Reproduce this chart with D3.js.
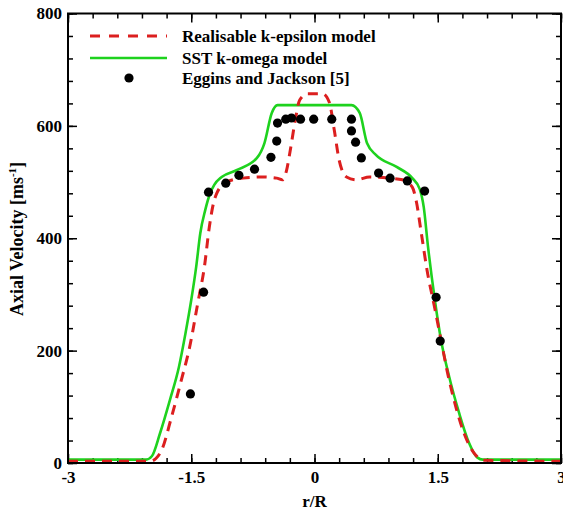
<!DOCTYPE html>
<html>
<head>
<meta charset="utf-8">
<script src="https://cdn.jsdelivr.net/npm/d3@7"></script>
<style>
  body { margin: 0; background: #fff; }
  svg text { font-family: "Liberation Serif", "Times New Roman", serif; font-weight: bold; }
</style>
</head>
<body>
<div id="chart"></div>
<script>
// SST k-omega model
const sstR = [-3, -2.05, -1.98, -1.88, -1.76, -1.65, -1.57, -1.50, -1.44, -1.39, -1.33, -1.27, -1.22, -1.13, -0.95, -0.70, -0.61, -0.52, -0.45,
  0.45, 0.55, 0.64, 0.75, 1.00, 1.19, 1.28, 1.33, 1.38, 1.46, 1.54, 1.64, 1.76, 1.88, 1.98, 2.05, 3];
const sstV = [6, 6, 12, 53, 112, 171, 231, 290, 349, 409, 450, 480, 495, 509, 521, 543, 569, 623, 637,
  637, 623, 569, 548, 527, 507, 488, 455, 387, 295, 219, 153, 89, 36, 10, 6, 6];

// Realisable k-epsilon model
const keR = [-3, -2.0, -1.93, -1.86, -1.74, -1.62, -1.52, -1.42, -1.34, -1.28, -1.23, -1.19, -1.07, -0.87, -0.63, -0.46, -0.39, -0.34, -0.30, -0.24, -0.18, -0.09,
  0.10, 0.18, 0.24, 0.30, 0.39, 0.51, 0.67, 0.91, 1.07, 1.19, 1.24, 1.30, 1.37, 1.46, 1.54, 1.62, 1.72, 1.82, 1.94, 2.06, 3];
const keV = [3, 3, 8, 23, 82, 148, 206, 285, 349, 420, 462, 480, 500, 507, 509, 507, 504, 521, 552, 605, 646, 657,
  657, 642, 593, 539, 509, 504, 509, 507, 504, 491, 465, 409, 343, 278, 219, 160, 100, 53, 18, 5, 3];

// Eggins and Jackson [5]
const expR = [-1.51, -1.35, -1.29, -1.08, -0.92, -0.73, -0.53, -0.46, -0.45, -0.35, -0.28, -0.17, -0.01, 0.21, 0.45, 0.45, 0.50, 0.57, 0.78, 0.92, 1.13, 1.34, 1.48, 1.53];
const expV = [123, 304, 482, 498, 512, 523, 544, 573, 605, 612, 614, 612, 612, 612, 612, 591, 571, 543, 516, 507, 502, 484, 295, 217];

const xMajor = [-3, -1.5, 0, 1.5, 3];
const xMinor = d3.range(-3, 3.001, 0.3);
const yMajor = [0, 200, 400, 600, 800];
const yMinor = d3.range(0, 801, 40);

const legendLabels = ["Realisable k-epsilon model", "SST k-omega model", "Eggins and Jackson [5]"];

const W = 563, H = 513;
const margin = { top: 13.5, right: 2, bottom: 50, left: 68 };
const RED = "#dc1f1f", GREEN = "#1ed21e";

const svg = d3.select("#chart").append("svg").attr("width", W).attr("height", H);

const x = d3.scaleLinear().domain([-3, 3]).range([margin.left, W - margin.right]);
const y = d3.scaleLinear().domain([0, 800]).range([H - margin.bottom, margin.top]);

const fmtX = d => (d === 0 ? "0" : String(d));

// axes: ticks inward on all four sides
function drawAxis(axisFn, scale, vals, size, transform, withLabels, fmt, pad) {
  const a = axisFn(scale).tickValues(vals).tickSize(-size).tickPadding(pad || 6);
  a.tickFormat(withLabels ? fmt : "");
  const g = svg.append("g").attr("transform", transform).call(a);
  g.select(".domain").remove();
  g.selectAll(".tick line").attr("stroke", "#000").attr("stroke-width", 1.5);
  g.selectAll("text").attr("fill", "#000").style("font-size", "17px");
  return g;
}

drawAxis(d3.axisBottom, x, xMinor, 5, `translate(0,${y(0)})`, false);
drawAxis(d3.axisBottom, x, xMajor, 9, `translate(0,${y(0)})`, true, fmtX, 8);
drawAxis(d3.axisTop, x, xMinor, 5, `translate(0,${y(800)})`, false);
drawAxis(d3.axisTop, x, xMajor, 9, `translate(0,${y(800)})`, false);
drawAxis(d3.axisLeft, y, yMinor, 5, `translate(${x(-3)},0)`, false);
drawAxis(d3.axisLeft, y, yMajor, 9, `translate(${x(-3)},0)`, true, d3.format("d"));
drawAxis(d3.axisRight, y, yMinor, 5, `translate(${x(3)},0)`, false);
drawAxis(d3.axisRight, y, yMajor, 9, `translate(${x(3)},0)`, false);

// curves
const line = d3.line().x(d => x(d[0])).y(d => y(d[1])).curve(d3.curveMonotoneX);

svg.append("path")
  .datum(d3.zip(sstR, sstV))
  .attr("d", line)
  .attr("fill", "none")
  .attr("stroke", GREEN)
  .attr("stroke-width", 2.6);

svg.append("path")
  .datum(d3.zip(keR, keV))
  .attr("d", line)
  .attr("fill", "none")
  .attr("stroke", RED)
  .attr("stroke-width", 3)
  .attr("stroke-dasharray", "10,7");

svg.append("g").selectAll("circle")
  .data(d3.zip(expR, expV))
  .join("circle")
  .attr("cx", d => x(d[0]))
  .attr("cy", d => y(d[1]))
  .attr("r", 4.6)
  .attr("fill", "#000");

// frame
svg.append("rect")
  .attr("x", x(-3)).attr("y", y(800))
  .attr("width", x(3) - x(-3)).attr("height", y(0) - y(800))
  .attr("fill", "none").attr("stroke", "#000").attr("stroke-width", 2);

// legend
const lg = svg.append("g");
const legY = [36, 58, 78];
lg.append("line").attr("x1", 90).attr("x2", 167).attr("y1", legY[0]).attr("y2", legY[0])
  .attr("stroke", RED).attr("stroke-width", 3).attr("stroke-dasharray", "10,9");
lg.append("line").attr("x1", 90).attr("x2", 167).attr("y1", legY[1]).attr("y2", legY[1])
  .attr("stroke", GREEN).attr("stroke-width", 2.6);
lg.append("circle").attr("cx", 129).attr("cy", legY[2]).attr("r", 4.6).attr("fill", "#000");
lg.selectAll("text").data(legendLabels).join("text")
  .attr("x", 182).attr("y", (d, i) => legY[i] + 6)
  .style("font-size", "17px")
  .text(d => d);

// axis titles
svg.append("text")
  .attr("x", x(0)).attr("y", 507)
  .attr("text-anchor", "middle")
  .style("font-size", "17px")
  .text("r/R");

const yt = svg.append("text")
  .attr("transform", `translate(23,239) rotate(-90)`)
  .attr("text-anchor", "middle")
  .style("font-size", "18px");
yt.append("tspan").text("Axial Velocity [ms");
yt.append("tspan").attr("dy", -7).style("font-size", "11px").text("-1");
yt.append("tspan").attr("dy", 7).text("]");
</script>
</body>
</html>
